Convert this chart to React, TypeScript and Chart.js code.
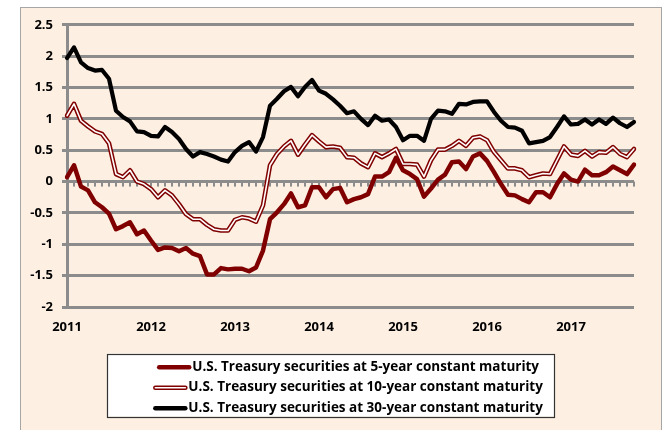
import React, { useEffect, useRef } from 'react';
import { Chart, registerables } from 'chart.js';

Chart.register(...registerables);

const years = ['2011', '2012', '2013', '2014', '2015', '2016', '2017'];
const monthNames = ['Jan', 'Feb', 'Mar', 'Apr', 'May', 'Jun', 'Jul', 'Aug', 'Sep', 'Oct', 'Nov', 'Dec'];

const seriesNames = [
  'U.S. Treasury securities at 5-year constant maturity',
  'U.S. Treasury securities at 10-year constant maturity',
  'U.S. Treasury securities at 30-year constant maturity',
];

const fiveYear = [
  0.07, 0.26, -0.08, -0.14, -0.33, -0.41, -0.51, -0.76, -0.71, -0.65, -0.84, -0.78,
  -0.94, -1.09, -1.05, -1.06, -1.11, -1.06, -1.15, -1.19, -1.48, -1.48, -1.38, -1.40,
  -1.39, -1.39, -1.43, -1.37, -1.10, -0.60, -0.49, -0.36, -0.19, -0.41, -0.38, -0.09,
  -0.09, -0.25, -0.12, -0.10, -0.33, -0.28, -0.25, -0.20, 0.08, 0.08, 0.15, 0.38,
  0.18, 0.12, 0.04, -0.24, -0.11, 0.03, 0.11, 0.31, 0.32, 0.20, 0.40, 0.45,
  0.33, 0.15, -0.04, -0.21, -0.22, -0.28, -0.33, -0.17, -0.17, -0.25, -0.04, 0.13,
  0.03, 0.00, 0.19, 0.10, 0.10, 0.15, 0.24, 0.18, 0.12, 0.27,
];

const tenYear = [
  1.05, 1.24, 0.97, 0.88, 0.80, 0.76, 0.61, 0.12, 0.07, 0.18, 0.00, -0.04,
  -0.12, -0.25, -0.14, -0.22, -0.36, -0.52, -0.60, -0.60, -0.69, -0.76, -0.78, -0.78,
  -0.61, -0.57, -0.59, -0.64, -0.38, 0.26, 0.44, 0.56, 0.65, 0.43, 0.59, 0.74,
  0.64, 0.55, 0.56, 0.54, 0.39, 0.38, 0.29, 0.23, 0.45, 0.39, 0.45, 0.52,
  0.28, 0.28, 0.27, 0.08, 0.34, 0.51, 0.51, 0.57, 0.65, 0.57, 0.70, 0.72,
  0.66, 0.47, 0.34, 0.21, 0.21, 0.18, 0.07, 0.10, 0.13, 0.12, 0.34, 0.56,
  0.43, 0.41, 0.49, 0.40, 0.47, 0.46, 0.55, 0.44, 0.39, 0.52,
];

const thirtyYear = [
  1.97, 2.14, 1.90, 1.81, 1.77, 1.78, 1.64, 1.13, 1.03, 0.96, 0.80, 0.79,
  0.73, 0.72, 0.87, 0.79, 0.68, 0.52, 0.40, 0.47, 0.44, 0.40, 0.35, 0.32,
  0.47, 0.57, 0.63, 0.48, 0.71, 1.21, 1.32, 1.44, 1.51, 1.36, 1.51, 1.62,
  1.45, 1.40, 1.31, 1.21, 1.09, 1.12, 1.00, 0.90, 1.05, 0.97, 0.99, 0.87,
  0.66, 0.73, 0.73, 0.65, 1.00, 1.13, 1.12, 1.08, 1.24, 1.23, 1.27, 1.28,
  1.28, 1.11, 0.97, 0.87, 0.86, 0.81, 0.61, 0.63, 0.65, 0.71, 0.87, 1.04,
  0.91, 0.92, 0.99, 0.91, 0.99, 0.92, 1.02, 0.93, 0.87, 0.95,
];

const monthLabels = fiveYear.map((_, i) => `${monthNames[i % 12]} ${years[Math.floor(i / 12)]}`);

const DARK_RED = '#800000';
const GRID = '#8C8C8C';
const FONT = '"Open Sans", "Liberation Sans", sans-serif';
const LEGEND_FONT_SIZE = 13.5;
const LEGEND_BOX_W = 23.5;
const SAMPLE_LEN = 34;

const sampleStyles = [
  { kind: 'solid', color: DARK_RED },
  { kind: 'double', color: DARK_RED },
  { kind: 'solid', color: '#000000' },
];

const zeroTicks = {
  id: 'zeroTicks',
  beforeDatasetsDraw(chart: any) {
    const { ctx, scales } = chart;
    const x = scales.x;
    const y = scales.y;
    const y0 = y.getPixelForValue(0);
    ctx.save();
    ctx.fillStyle = GRID;
    for (let i = 0; i < monthLabels.length; i++) {
      const px = x.getPixelForValue(i);
      ctx.fillRect(Math.round(px) - 1, y0, 2, 5);
    }
    ctx.restore();
  },
};

const legendBox = {
  id: 'legendBox',
  beforeDraw(chart: any) {
    const lg = chart.legend;
    if (!lg || !lg.legendHitBoxes || !lg.legendHitBoxes.length) return;
    const hb = lg.legendHitBoxes;
    const textOff = LEGEND_BOX_W + LEGEND_FONT_SIZE / 2;
    const l = Math.min(...hb.map((h: any) => h.left + textOff)) - SAMPLE_LEN - 1 - 46;
    const r = Math.max(...hb.map((h: any) => h.left + h.width)) + 11;
    const t = hb[0].top - 6.5;
    const last = hb[hb.length - 1];
    const b = last.top + last.height + 2;
    const { ctx } = chart;
    ctx.save();
    ctx.fillStyle = '#FFFFFF';
    ctx.fillRect(l, t, r - l, b - t);
    ctx.strokeStyle = '#333333';
    ctx.lineWidth = 1.2;
    ctx.strokeRect(Math.round(l) + 0.5, Math.round(t) + 0.5, Math.round(r - l), Math.round(b - t));
    ctx.restore();
  },
  afterDraw(chart: any) {
    const lg = chart.legend;
    if (!lg || !lg.legendHitBoxes) return;
    const { ctx } = chart;
    const textOff = LEGEND_BOX_W + LEGEND_FONT_SIZE / 2;
    ctx.save();
    lg.legendHitBoxes.forEach((h: any, i: number) => {
      const st = sampleStyles[i];
      if (!st) return;
      const x1 = h.left + textOff - 1;
      const x0 = x1 - SAMPLE_LEN;
      const cy = h.top + LEGEND_FONT_SIZE / 2 + 0.5;
      ctx.lineCap = 'round';
      ctx.strokeStyle = st.color;
      ctx.lineWidth = st.kind === 'solid' ? 4.5 : 4.6;
      ctx.beginPath();
      ctx.moveTo(x0 + 2, cy);
      ctx.lineTo(x1 - 2, cy);
      ctx.stroke();
      if (st.kind === 'double') {
        ctx.strokeStyle = '#FFFFFF';
        ctx.lineWidth = 1.6;
        ctx.beginPath();
        ctx.moveTo(x0 + 2, cy);
        ctx.lineTo(x1 - 2, cy);
        ctx.stroke();
      }
    });
    ctx.restore();
  },
};

export default function App() {
  const ref = useRef<HTMLCanvasElement>(null);

  useEffect(() => {
    let chart: Chart | null = null;
    let cancelled = false;
    const build = () => {
      if (cancelled || !ref.current) return;
      chart = new Chart(ref.current, {
        type: 'line',
        data: {
          labels: monthLabels,
          datasets: [
            { label: seriesNames[0], data: fiveYear, borderColor: DARK_RED, backgroundColor: DARK_RED, borderWidth: 4.5, pointRadius: 0, tension: 0, borderJoinStyle: 'round', borderCapStyle: 'round', order: 2 },
            { label: seriesNames[1], data: tenYear, borderColor: DARK_RED, backgroundColor: '#FFFFFF', borderWidth: 4.6, pointRadius: 0, tension: 0, borderJoinStyle: 'round', borderCapStyle: 'round', order: 3 },
            { label: seriesNames[2], data: thirtyYear, borderColor: '#000000', backgroundColor: '#000000', borderWidth: 4.2, pointRadius: 0, tension: 0, borderJoinStyle: 'round', borderCapStyle: 'round', order: 1 },
            { label: 'inner', data: tenYear, borderColor: '#FFFFFF', backgroundColor: '#FFFFFF', borderWidth: 1.6, pointRadius: 0, tension: 0, borderJoinStyle: 'round', borderCapStyle: 'round', order: 0 },
          ],
        },
        options: {
          animation: false,
          responsive: true,
          maintainAspectRatio: false,
          layout: { padding: { top: 16, right: 27, bottom: 5.5, left: 0 } },
          plugins: {
            tooltip: { enabled: false },
            legend: {
              position: 'bottom',
              fullSize: false,
              labels: {
                boxWidth: LEGEND_BOX_W,
                boxHeight: 4,
                padding: 7,
                color: '#000000',
                font: { family: FONT, size: LEGEND_FONT_SIZE, weight: 'bold' },
                generateLabels: () =>
                  seriesNames.map((name, i) => ({
                    text: name,
                    fillStyle: 'rgba(0,0,0,0)',
                    strokeStyle: 'rgba(0,0,0,0)',
                    lineWidth: 0,
                    hidden: false,
                    datasetIndex: i,
                    fontColor: '#000000',
                  })),
              },
            },
          },
          scales: {
            x: {
              type: 'category',
              grid: { display: false, drawTicks: false },
              border: { display: false },
              afterFit: (s: any) => { s.height = 46; },
              ticks: {
                autoSkip: false, maxRotation: 0, minRotation: 0, padding: 12, color: '#000000',
                font: { family: FONT, size: 13, weight: 'bold' },
                callback: (_v: any, idx: number) => (idx % 12 === 0 ? years[idx / 12] : ''),
              },
            },
            y: {
              min: -2,
              max: 2.5,
              afterFit: (s: any) => { s.width = 46; },
              ticks: {
                stepSize: 0.5, padding: 9, color: '#000000',
                font: { family: FONT, size: 13, weight: 'bold' },
                callback: (v: any) => String(v),
              },
              grid: { color: GRID, lineWidth: 3, drawTicks: true, tickLength: 5 },
              border: { display: true, color: GRID, width: 3 },
            },
          },
        },
        plugins: [zeroTicks, legendBox],
      } as any);
    };
    const fonts: any = (document as any).fonts;
    if (fonts && fonts.load) {
      Promise.all([fonts.load('bold 13px "Open Sans"')])
        .catch(() => null)
        .then(() => build());
    } else {
      build();
    }
    return () => {
      cancelled = true;
      if (chart) chart.destroy();
    };
  }, []);

  return (
    <div style={{ position: 'fixed', left: 0, top: 0, width: 662, height: 430, background: '#FFFFFF', overflow: 'hidden' }}>
      <div style={{ position: 'absolute', left: 20, top: 7, width: 640, height: 423, border: '1px solid #A6A6A6', borderBottom: 'none', background: '#FDEFE2' }}>
        <div style={{ position: 'relative', width: 640, height: 422 }}>
          <canvas ref={ref} />
        </div>
      </div>
    </div>
  );
}
